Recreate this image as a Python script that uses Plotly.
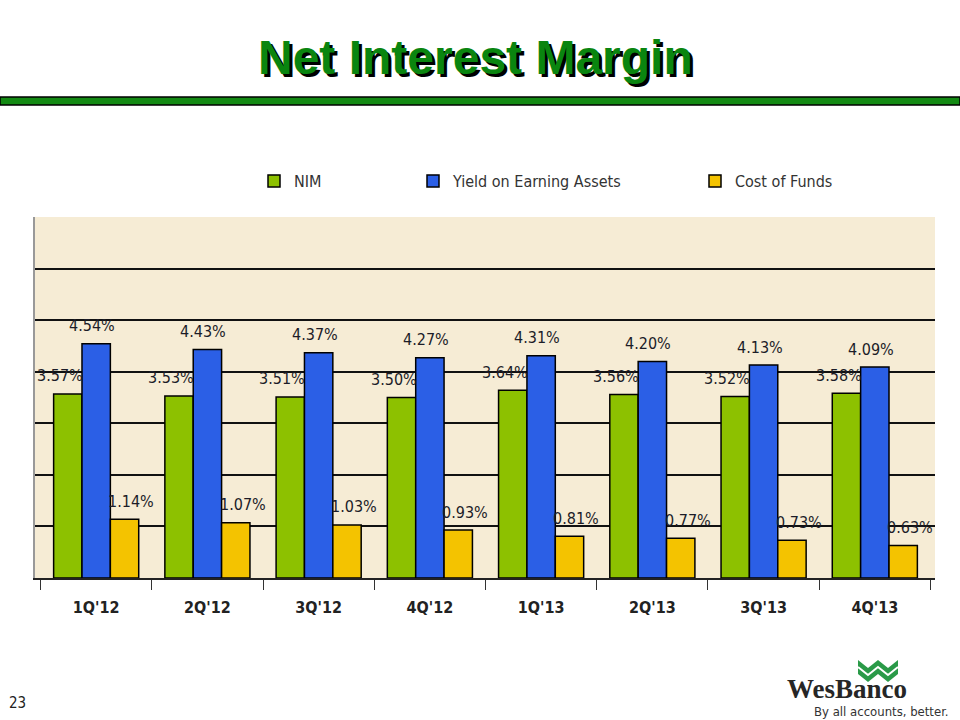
import plotly.graph_objects as go

quarters = ["1Q'12", "2Q'12", "3Q'12", "4Q'12", "1Q'13", "2Q'13", "3Q'13", "4Q'13"]
nim = [3.57, 3.53, 3.51, 3.50, 3.64, 3.56, 3.52, 3.58]
yield_ea = [4.54, 4.43, 4.37, 4.27, 4.31, 4.20, 4.13, 4.09]
cost_funds = [1.14, 1.07, 1.03, 0.93, 0.81, 0.77, 0.73, 0.63]

series = [
    ("NIM", nim, "#8DC100", -8),
    ("Yield on Earning Assets", yield_ea, "#2B5FE6", -4),
    ("Cost of Funds", cost_funds, "#F4C300", 7),
]

W, H = 960, 720
L, R, T, B = 35, 935, 217, 578
NARROW = "DejaVu Sans Condensed, Liberation Sans Narrow, Arial Narrow, sans-serif"


def px(xp):
    return (xp - L) / (R - L)


def py(yp):
    return (B - yp) / (B - T)


fig = go.Figure()
legend_x = [272, 431, 713]
for i, (name, vals, col, _) in enumerate(series):
    fig.add_trace(go.Bar(
        x=quarters, y=vals, name=name,
        marker=dict(color=col, line=dict(color="#000000", width=1.5)),
        legend="legend" if i == 0 else f"legend{i+1}",
        hoverinfo="x+y+name",
    ))

annotations = []
# data labels
for gi, (name, vals, col, xs) in enumerate(series):
    for qi, (q, v) in enumerate(zip(quarters, vals)):
        annotations.append(dict(
            x=qi + (gi - 1) * 0.2533, y=v, xref="x", yref="y",
            xanchor="center", yanchor="middle",
            text=f"{v:.2f}%", showarrow=False, xshift=xs, yshift=18,
            font=dict(family=NARROW, size=16, color="#1c1c28"),
        ))

# title with shadow
annotations.append(dict(
    x=px(475), y=py(57), xref="paper", yref="paper",
    xanchor="center", yanchor="middle",
    text="<b>Net Interest Margin</b>", showarrow=False,
    font=dict(family="Liberation Sans, Arial, sans-serif", size=48, color="#0A850F",
              shadow="3px 3px 0px #000000"),
))

# page number
annotations.append(dict(x=px(17), y=py(703), xref="paper", yref="paper",
                        xanchor="center", yanchor="middle",
                        text="23", showarrow=False,
                        font=dict(family=NARROW, size=15, color="#222")))
# logo text
annotations.append(dict(x=px(847), y=py(689), xref="paper", yref="paper",
                        xanchor="center", yanchor="middle",
                        text="<b>WesBanco</b>", showarrow=False,
                        font=dict(family="Liberation Serif, DejaVu Serif, serif", size=27, color="#262626")))
annotations.append(dict(x=px(881), y=py(711), xref="paper", yref="paper",
                        xanchor="center", yanchor="middle",
                        text="By all accounts, better.", showarrow=False,
                        font=dict(family=NARROW, size=13, color="#333")))

shapes = [
    # green rule under title
    dict(type="rect", xref="paper", yref="paper",
         x0=px(0), x1=px(960), y0=py(105), y1=py(97),
         fillcolor="#138A13", line=dict(color="#000", width=1.5), layer="above"),
    # WesBanco chevron block
    dict(type="path", xref="paper", yref="paper",
         path="M {} {} L {} {} L {} {} L {} {} L {} {} L {} {} L {} {} L {} {} L {} {} L {} {} Z".format(
             px(858), py(660), px(868), py(668), px(878), py(660), px(888), py(668), px(898), py(660),
             px(898), py(674), px(888), py(682), px(878), py(674), px(868), py(682), px(858), py(674)),
         fillcolor="#2A9A48", line=dict(width=0)),
    dict(type="path", xref="paper", yref="paper",
         path="M {} {} L {} {} L {} {} L {} {} L {} {}".format(
             px(858), py(667), px(868), py(675), px(878), py(667), px(888), py(675), px(898), py(667)),
         line=dict(color="#ffffff", width=2)),
]

leg_common = dict(orientation="h", xanchor="left", yanchor="middle",
                  bgcolor="rgba(0,0,0,0)", borderwidth=0,
                  font=dict(family=NARROW, size=16, color="#333"),
                  itemclick=False, itemdoubleclick=False, itemwidth=30)

fig.update_layout(
    width=W, height=H,
    margin=dict(l=L, r=W - R, t=T, b=H - B),
    paper_bgcolor="#ffffff", plot_bgcolor="#F6ECD5",
    barmode="group", bargap=0.235, bargroupgap=0,
    showlegend=True,
    legend=dict(x=px(legend_x[0]) - 0.02, y=py(181), **leg_common),
    legend2=dict(x=px(legend_x[1]) - 0.02, y=py(181), **leg_common),
    legend3=dict(x=px(legend_x[2]) - 0.02, y=py(181), **leg_common),
    xaxis=dict(
        type="category", tickson="boundaries", ticks="outside", ticklen=10,
        tickcolor="#333", showline=True, linecolor="#222", linewidth=1.5,
        tickfont=dict(family=NARROW, size=16, color="#222"),
        ticklabelstandoff=14,
        showgrid=False,
    ),
    yaxis=dict(
        range=[0, 7], dtick=1, showticklabels=False, showgrid=True,
        gridcolor="#111", gridwidth=1.5, zeroline=False,
        showline=True, linecolor="#999", linewidth=1.5, ticks="",
    ),
    annotations=annotations, shapes=shapes,
    font=dict(family=NARROW),
)
fig.update_xaxes(tickprefix="<b>", ticksuffix="</b>")

fig.write_html("out.html", config={"displayModeBar": False})
with open("out.html", encoding="utf-8") as f:
    html = f.read()
html = html.replace("<head>", "<head><style>html,body{margin:0;padding:0;overflow:hidden}</style>", 1)
with open("out.html", "w", encoding="utf-8") as f:
    f.write(html)
